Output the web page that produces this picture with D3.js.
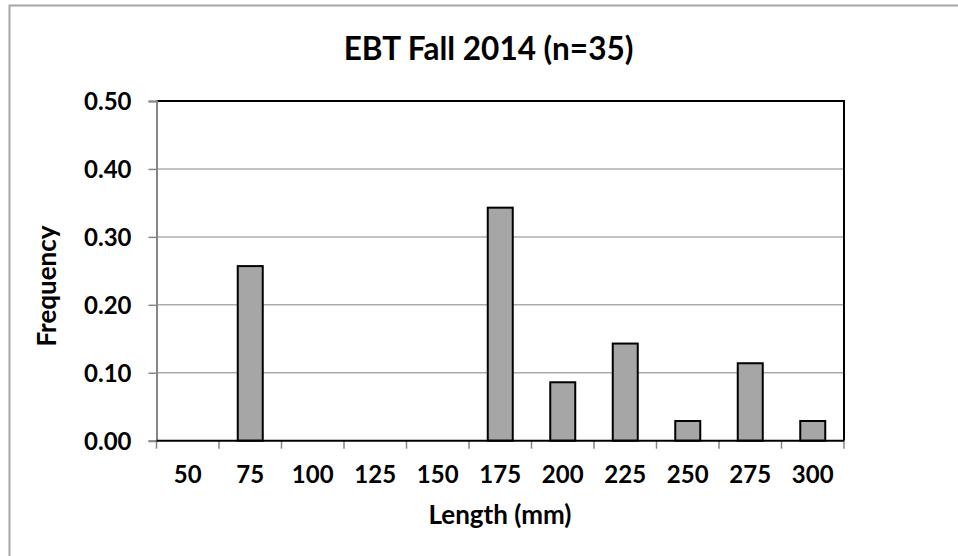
<!DOCTYPE html>
<html><head><meta charset="utf-8">
<script src="https://cdn.jsdelivr.net/npm/d3@7"></script>
<style>html,body{margin:0;padding:0;background:#fff;}svg{display:block;}</style>
</head><body>
<svg id="chart" width="958" height="556"></svg>
<script>
const categories = ["50","75","100","125","150","175","200","225","250","275","300"];
const frequency = [0, 0.257, 0, 0, 0, 0.343, 0.086, 0.143, 0.029, 0.114, 0.029];
const yTicks = [0, 0.1, 0.2, 0.3, 0.4, 0.5];
const titleText = "EBT Fall 2014 (n=35)";
const xTitle = "Length (mm)";
const yTitle = "Frequency";

(function () {
const svg = d3.select("#chart");
const FONT = "Lato, 'Open Sans', sans-serif";
const pLeft = 156.5, pRight = 844, pTop = 101, pBottom = 440.7;

// outer chart border
svg.append("rect").attr("x", 9.5).attr("y", 5.5).attr("width", 980).attr("height", 600)
  .attr("fill", "#fff").attr("stroke", "#a6a6a6").attr("stroke-width", 2);

const x = d3.scaleBand().domain(categories).range([pLeft, pRight]).paddingInner(0.6).paddingOuter(0.3);
const xb = d3.scaleBand().domain(categories).range([pLeft, pRight]);
const y = d3.scaleLinear().domain([0, 0.5]).range([pBottom, pTop]);

// gridlines
svg.append("g").selectAll("line").data(yTicks.filter(t => t > 0 && t < 0.5)).join("line")
  .attr("x1", pLeft).attr("x2", pRight).attr("y1", d => y(d)).attr("y2", d => y(d))
  .attr("stroke", "#acacac").attr("stroke-width", 1.5);

// top & right border (black)
svg.append("path").attr("d", `M${pLeft},${y(0.5)}H${pRight}V${pBottom}`)
  .attr("fill", "none").attr("stroke", "#000").attr("stroke-width", 2);

// bars
svg.append("g").selectAll("rect").data(categories.map((c, i) => ({c, v: frequency[i]}))).join("rect")
  .attr("x", d => x(d.c)).attr("width", x.bandwidth())
  .attr("y", d => y(d.v)).attr("height", d => y(0) - y(d.v))
  .attr("fill", "#a6a6a6").attr("stroke", "#000").attr("stroke-width", 2);

// y axis
const yAxis = d3.axisLeft(y).tickValues(yTicks).tickFormat(d3.format(".2f")).tickSize(8).tickPadding(17);
const gy = svg.append("g").attr("transform", `translate(${pLeft},0)`).call(yAxis);
gy.select(".domain").attr("stroke", "#868686").attr("stroke-width", 2);
gy.selectAll(".tick line").attr("stroke", "#868686").attr("stroke-width", 1.5);
gy.selectAll(".tick text").attr("font-family", FONT).attr("font-weight", "bold")
  .attr("font-size", 24).attr("fill", "#000").attr("dy", "0.35em");

// x axis ticks at band boundaries
const bounds = categories.map(c => xb(c)).concat([pRight]);
svg.append("g").selectAll("line").data(bounds).join("line")
  .attr("x1", d => d).attr("x2", d => d).attr("y1", pBottom).attr("y2", pBottom + 8)
  .attr("stroke", "#868686").attr("stroke-width", 1.5);
svg.append("line").attr("x1", pLeft).attr("x2", pRight).attr("y1", pBottom).attr("y2", pBottom)
  .attr("stroke", "#000").attr("stroke-width", 2);
svg.append("g").selectAll("text").data(categories).join("text")
  .attr("x", d => xb(d) + xb.bandwidth() / 2).attr("y", 475).attr("dy", "0.35em")
  .attr("text-anchor", "middle").attr("font-family", FONT).attr("font-weight", "bold")
  .attr("font-size", 24).text(d => d);

// titles
svg.append("text").attr("x", 488.5).attr("y", 49).attr("dy", "0.35em").attr("text-anchor", "middle")
  .attr("font-family", FONT).attr("font-weight", "bold").attr("font-size", 31.5).text(titleText);
svg.append("text").attr("x", 500).attr("y", 515).attr("dy", "0.35em").attr("text-anchor", "middle")
  .attr("font-family", FONT).attr("font-weight", "bold").attr("font-size", 26).text(xTitle);
svg.append("text").attr("transform", "translate(47,286) rotate(-90)").attr("dy", "0.35em")
  .attr("text-anchor", "middle").attr("font-family", FONT).attr("font-weight", "bold")
  .attr("font-size", 26).text(yTitle);
})();
</script>
</body></html>
